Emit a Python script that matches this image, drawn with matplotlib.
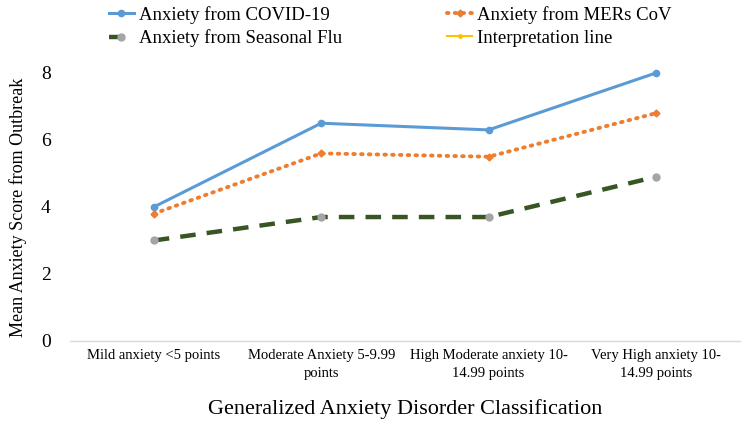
import matplotlib.pyplot as plt
import numpy as np

plt.rcParams['font.family'] = ['Liberation Serif', 'DejaVu Serif']

categories = ["Mild anxiety <5 points",
              "Moderate Anxiety 5-9.99\npoints",
              "High Moderate anxiety 10-\n14.99 points",
              "Very High anxiety 10-\n14.99 points"]
covid = [4.0, 6.5, 6.3, 8.0]
mers = [3.8, 5.6, 5.5, 6.8]
flu = [3.0, 3.7, 3.7, 4.9]
interpretation = []

fig = plt.figure(figsize=(7.54, 4.33), dpi=100)
ax = fig.add_axes([0.093, 0.2125, 0.888, 0.619])

x = np.arange(len(categories))

l1, = ax.plot(x, covid, color='#5B9BD5', lw=2.2, marker='o', ms=4.5,
              label='Anxiety from COVID-19', clip_on=False, zorder=3)
l2, = ax.plot(x, mers, color='#ED7D31', lw=2.8, ls=(0, (0.4, 1.6)), dash_capstyle='round',
              marker='D', ms=3.5, label='Anxiety from MERs CoV', clip_on=False, zorder=3)
l3, = ax.plot(x, flu, color='#375623', lw=3.2, ls=(0, (3.5, 2.5)), marker='o', ms=5,
              markerfacecolor='#A5A5A5', markeredgecolor='#A5A5A5',
              label='Anxiety from Seasonal Flu', clip_on=False, zorder=3)
l4, = ax.plot(interpretation, interpretation, color='#FFC000', lw=1.5, marker='o', ms=2.5,
              label='Interpretation line')

ax.set_xlim(-0.5, len(categories) - 0.5)
ax.set_ylim(0, 8)
ax.set_yticks([0, 2, 4, 6, 8])
ax.set_xticks(x)
ax.set_xticklabels(categories, fontsize=10.5, linespacing=1.45)
ax.tick_params(axis='y', labelsize=14, length=0, pad=14)
ax.tick_params(axis='x', length=0, pad=6)

for s in ['top', 'right', 'left']:
    ax.spines[s].set_visible(False)
ax.spines['bottom'].set_color('#D9D9D9')
ax.spines['bottom'].set_linewidth(1)

ax.set_ylabel('Mean Anxiety Score from Outbreak', fontsize=13, labelpad=10)
ax.set_xlabel('Generalized Anxiety Disorder Classification', fontsize=16, labelpad=14)

fig.legend([l1, l3, l2, l4], [l.get_label() for l in [l1, l3, l2, l4]],
           loc='upper left', bbox_to_anchor=(0.13, 1.012), ncol=2, frameon=False,
           fontsize=13.5, handlelength=1.3, handletextpad=0.3, columnspacing=5.6,
           labelspacing=0.3, borderpad=0.1)

plt.savefig('out.png', dpi=100)
plt.close()
